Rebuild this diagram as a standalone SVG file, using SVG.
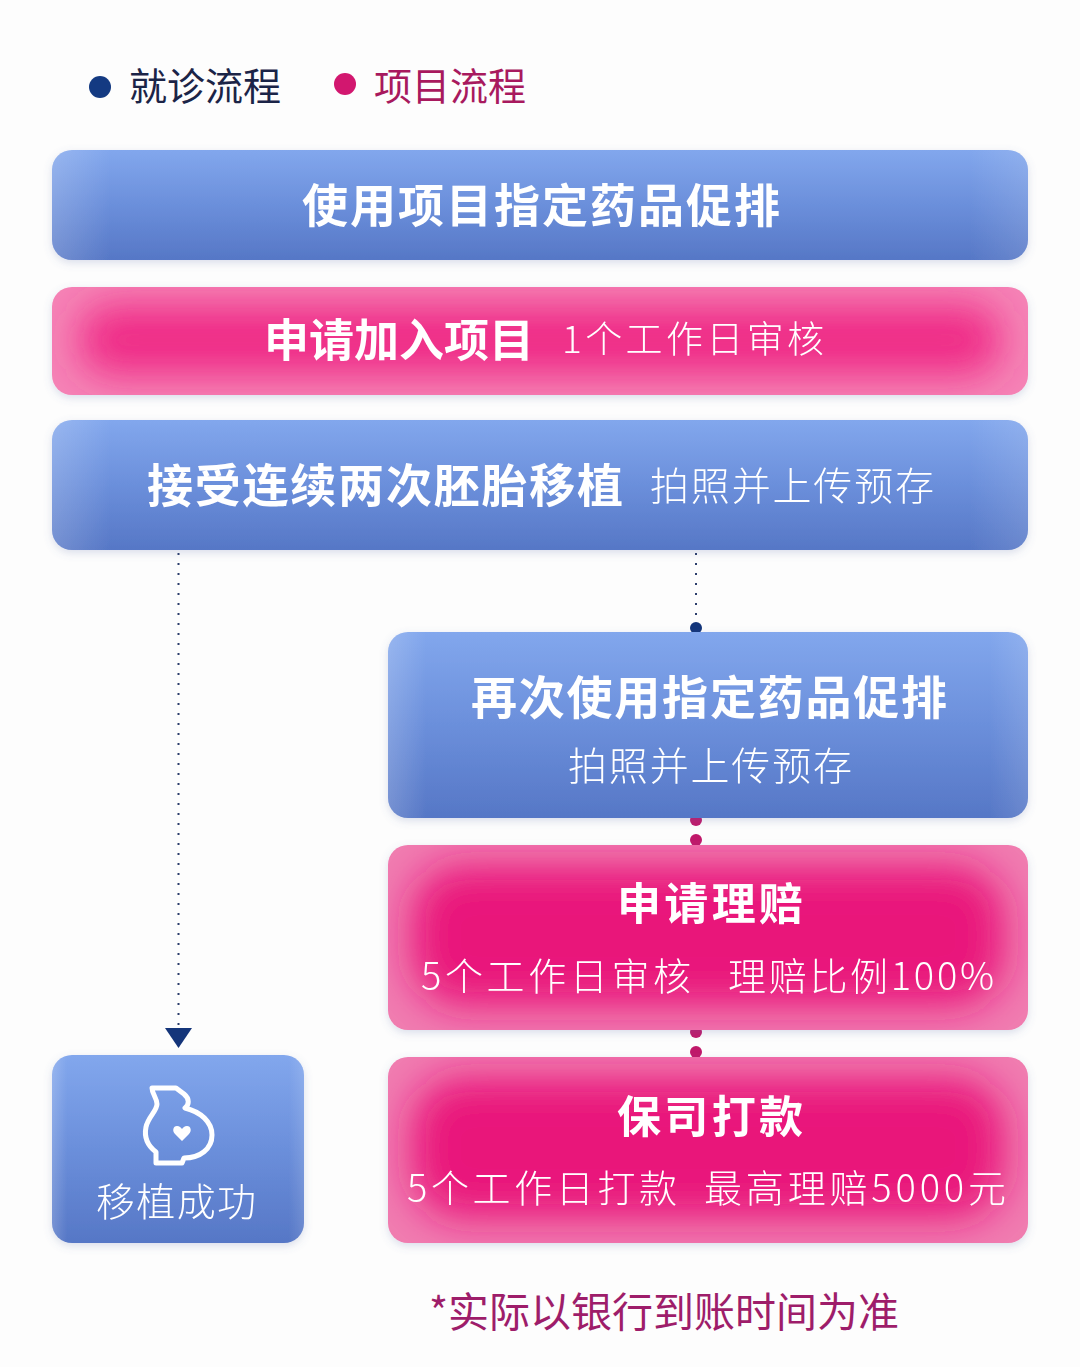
<svg xmlns="http://www.w3.org/2000/svg" width="1080" height="1367" viewBox="0 0 1080 1367">
<defs>
<style>
.t{font-family:"Noto Sans CJK SC","Noto Sans",sans-serif;fill:#fff;text-anchor:middle}
.b{font-weight:700}
.r{font-weight:300}
.dot{stroke:#2b3d6b;stroke-width:2;stroke-dasharray:2 8;fill:none}
</style>
<linearGradient id="blue" x1="0" y1="0" x2="0" y2="1">
<stop offset="0" stop-color="#82a7ed"/>
<stop offset="0.5" stop-color="#6b8fdb"/>
<stop offset="1" stop-color="#5677c6"/>
</linearGradient>
<linearGradient id="blueEdge" x1="0" y1="0" x2="1" y2="0">
<stop offset="0" stop-color="#ffffff" stop-opacity="0.18"/>
<stop offset="0.06" stop-color="#ffffff" stop-opacity="0"/>
<stop offset="0.94" stop-color="#ffffff" stop-opacity="0"/>
<stop offset="1" stop-color="#ffffff" stop-opacity="0.12"/>
</linearGradient>
<filter id="blur" x="-30%" y="-80%" width="160%" height="260%"><feGaussianBlur stdDeviation="20"/></filter>
<filter id="sh" x="-10%" y="-20%" width="120%" height="150%"><feDropShadow dx="0" dy="3" stdDeviation="4" flood-color="#5a6fa8" flood-opacity="0.22"/></filter>
<clipPath id="c2"><rect x="52" y="287" width="976" height="108" rx="20"/></clipPath>
<clipPath id="c5"><rect x="388" y="845" width="640" height="185" rx="20"/></clipPath>
<clipPath id="c6"><rect x="388" y="1057" width="640" height="186" rx="20"/></clipPath>
</defs>
<rect width="1080" height="1367" fill="#fdfdfd"/>

<g id="legend">
<circle cx="100" cy="87" r="11" fill="#143a82"/>
<text x="129" y="100" font-family="Noto Sans CJK SC,sans-serif" font-size="38" fill="#1b2447">就诊流程</text>
<circle cx="345" cy="84" r="11" fill="#d2176f"/>
<text x="374" y="100" font-family="Noto Sans CJK SC,sans-serif" font-size="38" fill="#a8195e">项目流程</text>
</g>

<g id="connectors">
<line class="dot" x1="178.5" y1="553" x2="178.5" y2="1026"/>
<polygon points="165,1028 192,1028 178.5,1048" fill="#14357a"/>
<line class="dot" x1="696" y1="553" x2="696" y2="622"/>
<circle cx="696" cy="628" r="6" fill="#13357a"/>
<circle cx="696" cy="820" r="6" fill="#c0186a"/>
<circle cx="696" cy="840" r="6" fill="#c0186a"/>
<circle cx="696" cy="1032" r="6" fill="#c0186a"/>
<circle cx="696" cy="1052" r="6" fill="#c0186a"/>
</g>

<g id="n1" filter="url(#sh)">
<rect x="52" y="150" width="976" height="110" rx="20" fill="url(#blue)"/>
<rect x="52" y="150" width="976" height="110" rx="20" fill="url(#blueEdge)"/>
<text class="t b" x="541" y="222" font-size="46" textLength="478">使用项目指定药品促排</text>
</g>

<g id="n2" filter="url(#sh)">
<rect x="52" y="287" width="976" height="108" rx="20" fill="#f584b6"/>
<g clip-path="url(#c2)"><rect x="80" y="305" width="920" height="70" rx="30" fill="#ef2c86" filter="url(#blur)"/></g>
<text class="t b" x="399" y="357" font-size="45">申请加入项目</text>
<text class="t r" x="693" y="353" font-size="37" textLength="262">1个工作日审核</text>
</g>

<g id="n3" filter="url(#sh)">
<rect x="52" y="420" width="976" height="130" rx="20" fill="url(#blue)"/>
<rect x="52" y="420" width="976" height="130" rx="20" fill="url(#blueEdge)"/>
<text class="t b" x="385" y="502" font-size="46" textLength="476">接受连续两次胚胎移植</text>
<text class="t r" x="792" y="500" font-size="39" textLength="284">拍照并上传预存</text>
</g>

<g id="n4" filter="url(#sh)">
<rect x="388" y="632" width="640" height="186" rx="20" fill="url(#blue)"/>
<rect x="388" y="632" width="640" height="186" rx="20" fill="url(#blueEdge)"/>
<text class="t b" x="709" y="714" font-size="46" textLength="476">再次使用指定药品促排</text>
<text class="t r" x="710" y="780" font-size="39" textLength="284">拍照并上传预存</text>
</g>

<g id="n5" filter="url(#sh)">
<rect x="388" y="845" width="640" height="185" rx="20" fill="#f07cb0"/>
<g clip-path="url(#c5)"><rect x="412" y="866" width="592" height="140" rx="50" fill="#e9127a" filter="url(#blur)"/></g>
<text class="t b" x="710" y="920" font-size="44" textLength="186">申请理赔</text>
<text class="t r" x="556" y="990" font-size="38" textLength="270">5个工作日审核</text>
<text class="t r" x="861" y="990" font-size="38" textLength="266">理赔比例100%</text>
</g>

<g id="n6" filter="url(#sh)">
<rect x="388" y="1057" width="640" height="186" rx="20" fill="#f07cb0"/>
<g clip-path="url(#c6)"><rect x="412" y="1078" width="592" height="140" rx="50" fill="#e9127a" filter="url(#blur)"/></g>
<text class="t b" x="710" y="1133" font-size="44" textLength="186">保司打款</text>
<text class="t r" x="542" y="1202" font-size="38" textLength="270">5个工作日打款</text>
<text class="t r" x="855" y="1202" font-size="38" textLength="302">最高理赔5000元</text>
</g>

<g id="n7" filter="url(#sh)">
<rect x="52" y="1055" width="252" height="188" rx="20" fill="url(#blue)"/>
<rect x="52" y="1055" width="252" height="188" rx="20" fill="url(#blueEdge)"/>
<path d="M152,1088 L176,1088 L184,1094 C190,1099 189,1105 185,1108 C201,1112 212,1122 212,1135 C212,1149 200,1158 184,1158 L182,1163 L156,1163 L156,1152 C148,1146 144,1137 146,1127 C148,1117 157,1111 157,1104 C157,1098 152,1094 152,1088 Z" fill="none" stroke="#fff" stroke-width="5" stroke-linejoin="round"/>
<path d="M182,1141 L175,1134 C172,1131 173,1126 177,1126 C179.5,1126 181,1127.5 182,1129 C183,1127.5 184.5,1126 187,1126 C191,1126 192,1131 189,1134 Z" fill="#fff"/>
<text class="t r" x="176" y="1216" font-size="39" textLength="160">移植成功</text>
</g>

<text x="664" y="1327" font-family="Noto Sans CJK SC,sans-serif" font-size="41" fill="#9e1d6a" text-anchor="middle">*实际以银行到账时间为准</text>
</svg>
